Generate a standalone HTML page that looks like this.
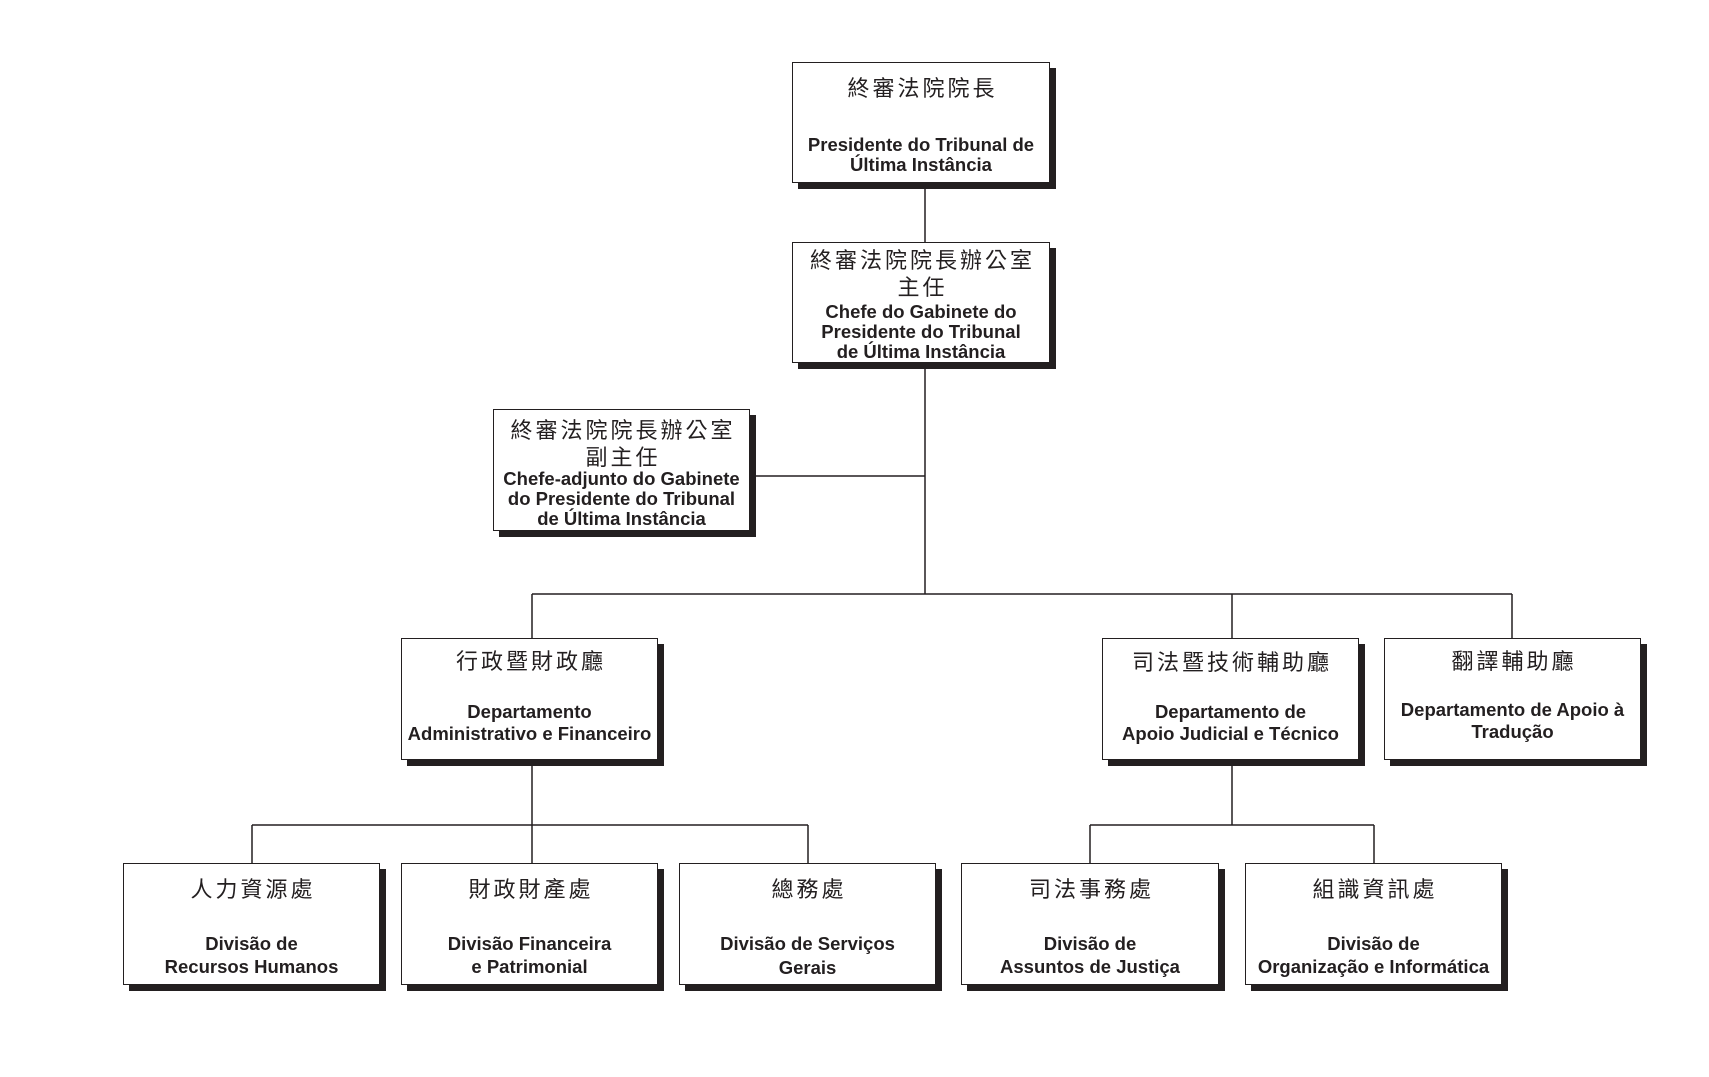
<!DOCTYPE html>
<html><head><meta charset="utf-8"><style>
body{margin:0;width:1709px;height:1077px;background:#fff;position:relative;overflow:hidden}
.b{position:absolute;border:1.5px solid #231f20;background:#fff;box-shadow:6px 6px 0 #231f20;box-sizing:border-box}
.t{position:absolute;left:0;right:0;text-align:center;white-space:nowrap;color:#231f20}
.c{font-family:"Liberation Sans","Noto Sans CJK TC",sans-serif;font-size:22px;line-height:26px;letter-spacing:3px;padding-left:3px}
.l{font-family:"Liberation Sans",sans-serif;font-weight:bold;font-size:18.5px;line-height:20px;letter-spacing:0}
svg{position:absolute;left:0;top:0}
</style></head><body>
<svg width="1709" height="1077"><g stroke="#231f20" stroke-width="1.5" fill="none">
<line x1="925" y1="183" x2="925" y2="594"/>
<line x1="750" y1="476" x2="925" y2="476"/>
<line x1="532" y1="594" x2="1512" y2="594"/>
<line x1="532" y1="594" x2="532" y2="638"/>
<line x1="1232" y1="594" x2="1232" y2="638"/>
<line x1="1512" y1="594" x2="1512" y2="638"/>
<line x1="532" y1="760" x2="532" y2="825"/>
<line x1="252" y1="825" x2="808" y2="825"/>
<line x1="252" y1="825" x2="252" y2="863"/>
<line x1="532" y1="825" x2="532" y2="863"/>
<line x1="808" y1="825" x2="808" y2="863"/>
<line x1="1232" y1="760" x2="1232" y2="825"/>
<line x1="1090" y1="825" x2="1374" y2="825"/>
<line x1="1090" y1="825" x2="1090" y2="863"/>
<line x1="1374" y1="825" x2="1374" y2="863"/>
</g></svg>

<div class="b" style="left:792px;top:62px;width:258px;height:121px">
<div class="t c" style="top:13px">終審法院院長</div>
<div class="t l" style="top:72px">Presidente do Tribunal de</div>
<div class="t l" style="top:92px">Última Instância</div></div>

<div class="b" style="left:792px;top:242px;width:258px;height:121px">
<div class="t c" style="top:5px">終審法院院長辦公室</div>
<div class="t c" style="top:32px">主任</div>
<div class="t l" style="top:59px">Chefe do Gabinete do</div>
<div class="t l" style="top:79px">Presidente do Tribunal</div>
<div class="t l" style="top:99px">de Última Instância</div></div>

<div class="b" style="left:493px;top:409px;width:257px;height:122px">
<div class="t c" style="top:8px">終審法院院長辦公室</div>
<div class="t c" style="top:35px">副主任</div>
<div class="t l" style="top:59px">Chefe-adjunto do Gabinete</div>
<div class="t l" style="top:79px">do Presidente do Tribunal</div>
<div class="t l" style="top:99px">de Última Instância</div></div>

<div class="b" style="left:401px;top:638px;width:257px;height:122px">
<div class="t c" style="top:10px">行政暨財政廳</div>
<div class="t l" style="top:63px">Departamento</div>
<div class="t l" style="top:85px">Administrativo e Financeiro</div></div>

<div class="b" style="left:1102px;top:638px;width:257px;height:122px">
<div class="t c" style="top:11px">司法暨技術輔助廳</div>
<div class="t l" style="top:63px">Departamento de</div>
<div class="t l" style="top:85px">Apoio Judicial e Técnico</div></div>

<div class="b" style="left:1384px;top:638px;width:257px;height:122px">
<div class="t c" style="top:10px">翻譯輔助廳</div>
<div class="t l" style="top:61px">Departamento de Apoio à</div>
<div class="t l" style="top:83px">Tradução</div></div>

<div class="b" style="left:123px;top:863px;width:257px;height:122px">
<div class="t c" style="top:13px">人力資源處</div>
<div class="t l" style="top:70px">Divisão de</div>
<div class="t l" style="top:93px">Recursos Humanos</div></div>

<div class="b" style="left:401px;top:863px;width:257px;height:122px">
<div class="t c" style="top:13px">財政財產處</div>
<div class="t l" style="top:70px">Divisão Financeira</div>
<div class="t l" style="top:93px">e Patrimonial</div></div>

<div class="b" style="left:679px;top:863px;width:257px;height:122px">
<div class="t c" style="top:13px">總務處</div>
<div class="t l" style="top:70px">Divisão de Serviços</div>
<div class="t l" style="top:94px">Gerais</div></div>

<div class="b" style="left:961px;top:863px;width:258px;height:122px">
<div class="t c" style="top:13px">司法事務處</div>
<div class="t l" style="top:70px">Divisão de</div>
<div class="t l" style="top:93px">Assuntos de Justiça</div></div>

<div class="b" style="left:1245px;top:863px;width:257px;height:122px">
<div class="t c" style="top:13px">組識資訊處</div>
<div class="t l" style="top:70px">Divisão de</div>
<div class="t l" style="top:93px">Organização e Informática</div></div>
</body></html>
